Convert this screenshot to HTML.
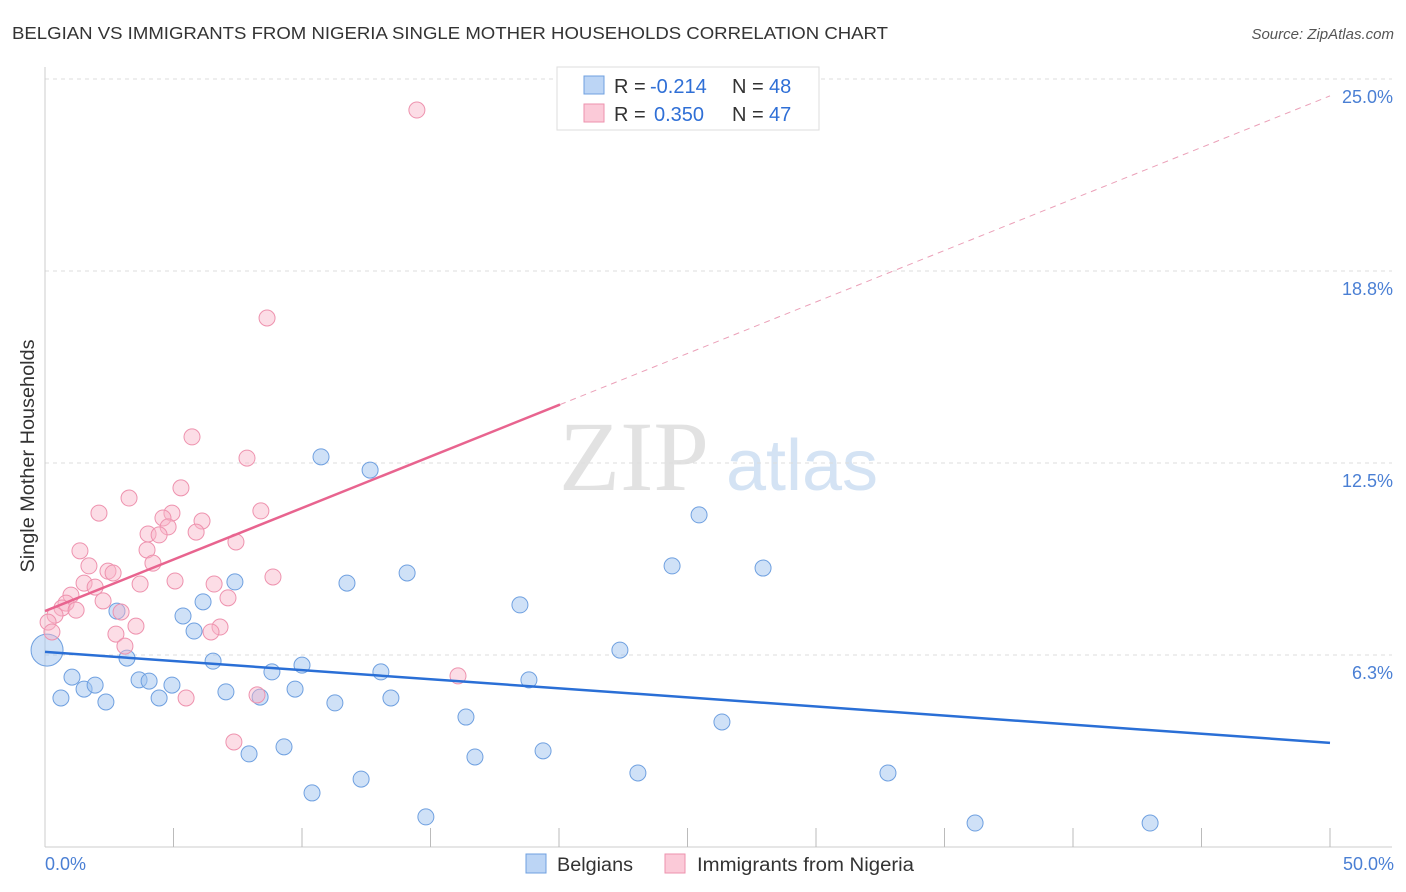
<!DOCTYPE html>
<html><head><meta charset="utf-8"><style>
body{margin:0;background:#fff;font-family:"Liberation Sans",sans-serif;}
svg{display:block}
</style></head><body>
<svg id="chart" width="1406" height="892">
<text x="12" y="39" font-size="17.5" fill="#333" textLength="876" lengthAdjust="spacingAndGlyphs">BELGIAN VS IMMIGRANTS FROM NIGERIA SINGLE MOTHER HOUSEHOLDS CORRELATION CHART</text>
<text x="1394" y="39" font-size="15" fill="#555" font-style="italic" text-anchor="end">Source: ZipAtlas.com</text>
<g>
<text x="634" y="490" font-size="100" fill="#e2e2e2" font-family="Liberation Serif,serif" text-anchor="middle">ZIP</text>
<text x="802" y="490" font-size="72" fill="#d4e3f4" text-anchor="middle">atlas</text>
</g>
<g id="grid"></g>
<g id="axes"></g>
<g id="marks"></g>
<text transform="translate(34,456) rotate(-90)" font-size="19" fill="#333" text-anchor="middle" textLength="233" lengthAdjust="spacingAndGlyphs">Single Mother Households</text>
<text x="45" y="870" font-size="18" fill="#4a7fd4">0.0%</text>
<text x="1394" y="870" font-size="18" fill="#4a7fd4" text-anchor="end">50.0%</text>
<g>
<rect x="557" y="67" width="262" height="63" fill="#fff" stroke="#ddd"/>
<rect x="584" y="76" width="20" height="18" fill="#bcd5f5" stroke="#6fa0e0"/>
<rect x="584" y="104" width="20" height="18" fill="#fbcad8" stroke="#ee92ae"/>
<text x="614" y="93" font-size="20" fill="#333">R = <tspan fill="#2f6fd6" x="650">-0.214</tspan><tspan x="732">N = </tspan><tspan fill="#2f6fd6" x="769">48</tspan></text>
<text x="614" y="121" font-size="20" fill="#333">R = <tspan fill="#2f6fd6" x="654">0.350</tspan><tspan x="732">N = </tspan><tspan fill="#2f6fd6" x="769">47</tspan></text>
</g>
<g>
<rect x="526" y="854" width="20" height="19" fill="#bcd5f5" stroke="#6fa0e0"/>
<text x="557" y="871" font-size="19" fill="#333" textLength="76" lengthAdjust="spacingAndGlyphs">Belgians</text>
<text x="697" y="871" font-size="19" fill="#333" textLength="217" lengthAdjust="spacingAndGlyphs">Immigrants from Nigeria</text>
<rect x="665" y="854" width="20" height="19" fill="#fbcad8" stroke="#ee92ae"/>
</g>
</svg>
<script>
const yTicks=[25.0,18.8,12.5,6.3];
const yTickVals=[25,18.75,12.5,6.25];
const blueX=[0.08,0.62,1.05,1.52,1.95,2.37,2.80,3.19,3.66,4.05,4.44,4.94,5.37,5.80,6.15,6.54,7.04,7.39,7.94,8.37,8.83,9.30,9.73,10.00,10.39,10.74,11.28,11.75,12.30,12.65,13.07,13.46,14.09,14.82,16.38,16.73,18.48,18.83,19.38,22.37,23.07,24.40,25.45,26.34,27.94,32.80,36.19,43.00];
const blueY=[6.41,4.85,5.53,5.14,5.27,4.72,7.68,6.15,5.44,5.40,4.85,5.27,7.52,7.03,7.98,6.05,5.05,8.63,3.03,4.88,5.70,3.26,5.14,5.92,1.76,12.70,4.69,8.59,2.21,12.27,5.70,4.85,8.92,0.98,4.23,2.93,7.88,5.44,3.13,6.41,2.41,9.15,10.81,4.07,9.08,2.41,0.78,0.78];
const pinkX=[14.47,8.64,5.72,7.86,5.29,3.27,2.10,8.40,4.94,4.59,6.11,4.79,5.88,4.01,4.44,7.43,1.36,3.97,4.20,1.71,2.45,2.65,8.87,5.06,3.70,1.52,6.58,1.95,1.01,7.12,2.26,0.82,0.66,2.96,1.21,0.39,0.12,3.54,6.81,0.27,6.46,2.76,3.11,16.07,5.49,8.25,7.35];
const pinkY=[23.99,17.22,13.35,12.66,11.69,11.36,10.87,10.94,10.87,10.71,10.61,10.42,10.25,10.19,10.16,9.93,9.64,9.67,9.24,9.15,8.98,8.92,8.79,8.66,8.56,8.59,8.56,8.46,8.20,8.11,8.01,7.94,7.78,7.65,7.71,7.55,7.32,7.19,7.16,7.00,7.00,6.93,6.54,5.57,4.85,4.95,3.42];
const blueTrend=[6.35,3.39];
const pinkTrend=[7.68,24.45];
const pinkSolidEnd=20.04;
const NS='http://www.w3.org/2000/svg';
const X=v=>45+v*25.7, Y=v=>847-v*30.72;
function mk(parent,tag,attrs){const e=document.createElementNS(NS,tag);for(const k in attrs)e.setAttribute(k,attrs[k]);parent.appendChild(e);return e;}
const grid=document.getElementById('grid'),axes=document.getElementById('axes'),marks=document.getElementById('marks');
yTickVals.forEach((v,i)=>{
 const l=mk(grid,'line',{x1:45,x2:1392,y1:Y(v),y2:Y(v),stroke:'#ddd','stroke-dasharray':'4,4'});
 
 
 const t=mk(grid,'text',{x:1393,y:Y(v)+24,'font-size':18,fill:'#4a7fd4','text-anchor':'end'});
 t.textContent=yTicks[i].toFixed(1)+'%';
 
 
});
const ax=mk(axes,'line',{x1:45,x2:45,y1:67,y2:847,stroke:'#ccc'});


const bx=mk(axes,'line',{x1:45,x2:1392,y1:847,y2:847,stroke:'#ccc'});


for(let i=1;i<=10;i++){
 const tk=mk(axes,'line',{x1:X(i*5),x2:X(i*5),y1:828,y2:847,stroke:'#bbb'});
 
 
}
blueX.forEach((x,i)=>{
 const c=mk(marks,'circle',{cx:X(x),cy:Y(blueY[i]),r:i===0?16:8,fill:'rgba(160,195,240,0.5)',stroke:'#6fa0e0','stroke-width':1});
 
 
});
pinkX.forEach((x,i)=>{
 const c=mk(marks,'circle',{cx:X(x),cy:Y(pinkY[i]),r:8,fill:'rgba(248,180,200,0.45)',stroke:'#ee92ae','stroke-width':1});
 
 
});
const bt=mk(marks,'line',{x1:X(0),y1:Y(blueTrend[0]),x2:X(50),y2:Y(blueTrend[1]),stroke:'#2a6fd6','stroke-width':2.5});


const pAt=x=>pinkTrend[0]+(pinkTrend[1]-pinkTrend[0])*x/50;
const pt=mk(marks,'line',{x1:X(0),y1:Y(pAt(0)),x2:X(pinkSolidEnd),y2:Y(pAt(pinkSolidEnd)),stroke:'#e8648f','stroke-width':2.5});


const pd=mk(marks,'line',{x1:X(pinkSolidEnd),y1:Y(pAt(pinkSolidEnd)),x2:X(50),y2:Y(pAt(50)),stroke:'#eba0b8','stroke-width':1,'stroke-dasharray':'6,5'});


</script>
</body></html>
